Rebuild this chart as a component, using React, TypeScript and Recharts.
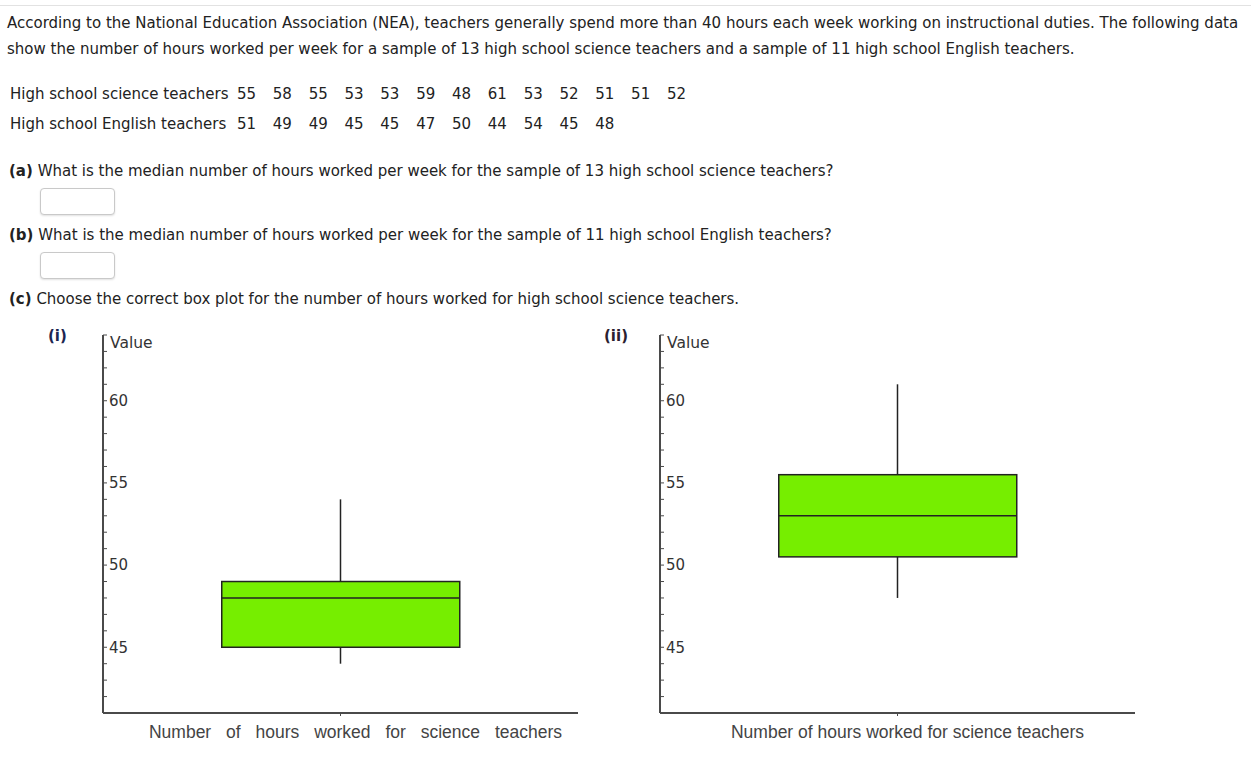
import React from "react";
import { ComposedChart, Bar, XAxis, YAxis, ReferenceLine } from "recharts";

// --- question text ---
const introLines = [
  "According to the National Education Association (NEA), teachers generally spend more than 40 hours each week working on instructional duties. The following data",
  "show the number of hours worked per week for a sample of 13 high school science teachers and a sample of 11 high school English teachers.",
];
const scienceLabel = "High school science teachers";
const scienceHours = [55, 58, 55, 53, 53, 59, 48, 61, 53, 52, 51, 51, 52];
const englishLabel = "High school English teachers";
const englishHours = [51, 49, 49, 45, 45, 47, 50, 44, 54, 45, 48];
const partTags = ["(a)", "(b)", "(c)"];
const partTexts = [
  "What is the median number of hours worked per week for the sample of 13 high school science teachers?",
  "What is the median number of hours worked per week for the sample of 11 high school English teachers?",
  "Choose the correct box plot for the number of hours worked for high school science teachers.",
];

// --- box plot values, one entry per option ---
const plotNames = ["(i)", "(ii)"];
const whiskerLow = [44, 48];
const boxLow = [45, 50.5];
const boxMedian = [48, 53];
const boxHigh = [49, 55.5];
const whiskerHigh = [54, 61];
const category = "science";
const yTicks = [41, 42, 43, 44, 45, 46, 47, 48, 49, 50, 51, 52, 53, 54, 55, 56, 57, 58, 59, 60, 61, 62, 63, 64];
const yLabeled = [45, 50, 55, 60];
const xTitle = "Number of hours worked for science teachers";

const TEXT_FONT = "'DejaVu Sans', sans-serif";
const AXIS_FONT = "'DejaVu Sans', sans-serif";
const TITLE_FONT = "'Liberation Sans', sans-serif";
const INK = "#222";
const AXIS = "#4a4a4a";

const CHART_W = 520;
const CHART_H = 430;
const MARGIN = { top: 15, left: 13, right: 32, bottom: 7 };
const chartLeft = [90, 647];
const titleShift = [15, 10];
const titleSpacing = [10, 0];

const BoxShape = (props: any) => {
  const { x, y, width, height, payload } = props;
  const top = Math.min(y, y + height);
  const h = Math.abs(height);
  const [lo, hi] = payload.box;
  const medY = top + ((hi - payload.median) / (hi - lo)) * h;
  return (
    <g>
      <rect x={x} y={top} width={width} height={h} fill="#76ee00" stroke={INK} strokeWidth={1.5} />
      <line x1={x} x2={x + width} y1={medY} y2={medY} stroke={INK} strokeWidth={1.5} />
    </g>
  );
};

function BoxChart({ i }: { i: number }) {
  const data = [{ name: category, box: [boxLow[i], boxHigh[i]], median: boxMedian[i] }];
  return (
    <div style={{ position: "absolute", left: chartLeft[i], top: 320 }}>
      <ComposedChart width={CHART_W} height={CHART_H} data={data} margin={MARGIN} barCategoryGap="25%">
        <XAxis
          dataKey="name"
          height={30}
          axisLine={{ stroke: AXIS, strokeWidth: 2 }}
          tickLine={{ stroke: AXIS }}
          tickSize={3}
          tick={() => <g />}
          label={{
            content: ({ viewBox }: any) => (
              <text
                x={viewBox.x + viewBox.width / 2 + titleShift[i]}
                y={viewBox.y + 25}
                textAnchor="middle"
                fontFamily={TITLE_FONT}
                fontSize={17.5}
                fill="#444"
                style={{ wordSpacing: titleSpacing[i] }}
              >
                {xTitle}
              </text>
            ),
          }}
        />
        <YAxis
          type="number"
          domain={[41, 64]}
          ticks={yTicks}
          interval={0}
          mirror
          tickSize={4}
          tickMargin={2}
          axisLine={{ stroke: AXIS, strokeWidth: 2 }}
          tickLine={{ stroke: AXIS }}
          tick={{ fontFamily: AXIS_FONT, fontSize: 15, fill: "#333" }}
          tickFormatter={(v: number) => (yLabeled.includes(v) ? `${v}` : "")}
          label={{
            content: () => (
              <text x={MARGIN.left + 7} y={MARGIN.top + 13} fontFamily={AXIS_FONT} fontSize={15.5} fill="#333">
                Value
              </text>
            ),
          }}
        />
        <Bar dataKey="box" shape={<BoxShape />} isAnimationActive={false} />
        <ReferenceLine
          segment={[{ x: category, y: boxHigh[i] }, { x: category, y: whiskerHigh[i] }]}
          stroke={INK}
          strokeWidth={1.5}
        />
        <ReferenceLine
          segment={[{ x: category, y: whiskerLow[i] }, { x: category, y: boxLow[i] }]}
          stroke={INK}
          strokeWidth={1.5}
        />
      </ComposedChart>
    </div>
  );
}

const answerBox: React.CSSProperties = {
  position: "absolute",
  left: 40,
  width: 75,
  height: 27,
  boxSizing: "border-box",
  border: "1px solid #c9c9c9",
  borderRadius: 4,
  boxShadow: "0 1px 2px rgba(0,0,0,0.12)",
  background: "#fff",
};

function Line({ top, left, children, bold }: { top: number; left: number; children: React.ReactNode; bold?: boolean }) {
  return (
    <div
      style={{
        position: "absolute",
        top: top - 9,
        left,
        lineHeight: "20px",
        whiteSpace: "nowrap",
        fontWeight: bold ? "bold" : "normal",
      }}
    >
      {children}
    </div>
  );
}

function DataRow({ top, label, values }: { top: number; label: string; values: number[] }) {
  return (
    <div style={{ position: "absolute", top: top - 9, left: 10, display: "flex", lineHeight: "20px", whiteSpace: "nowrap" }}>
      <span style={{ width: 227, flexShrink: 0 }}>{label}</span>
      {values.map((v, k) => (
        <span key={k} style={{ width: 35.83, flexShrink: 0 }}>
          {v}
        </span>
      ))}
    </div>
  );
}

export default function App() {
  const partY = [170, 234, 298];
  return (
    <div
      style={{
        position: "absolute",
        left: 0,
        top: 0,
        width: 1251,
        height: 759,
        background: "#fff",
        fontFamily: TEXT_FONT,
        fontSize: 15,
        color: INK,
        overflow: "hidden",
      }}
    >
      <div style={{ position: "absolute", left: 0, top: 5, width: 1251, height: 1, background: "#e2e2e2" }} />
      <Line top={22} left={7}>{introLines[0]}</Line>
      <Line top={48} left={7}>{introLines[1]}</Line>
      <DataRow top={93} label={scienceLabel} values={scienceHours} />
      <DataRow top={123} label={englishLabel} values={englishHours} />
      {partTags.map((tag, k) => (
        <Line key={tag} top={partY[k]} left={9}>
          <b>{tag}</b> {partTexts[k]}
        </Line>
      ))}
      <div style={{ ...answerBox, top: 188 }} />
      <div style={{ ...answerBox, top: 252 }} />
      <Line top={335} left={48} bold>
        <span style={{ color: "#1d2550" }}>{plotNames[0]}</span>
      </Line>
      <Line top={335} left={604} bold>
        <span style={{ color: "#2a2030" }}>{plotNames[1]}</span>
      </Line>
      <BoxChart i={0} />
      <BoxChart i={1} />
    </div>
  );
}
